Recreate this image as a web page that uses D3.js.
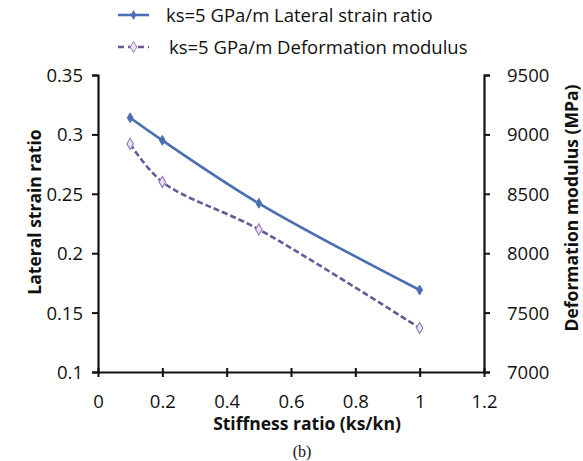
<!DOCTYPE html>
<html>
<head>
<meta charset="utf-8">
<script src="https://cdn.jsdelivr.net/npm/d3@7"></script>
<style>
  body { margin: 0; background: #fff; }
  text { font-family: "Open Sans", "Noto Sans", sans-serif; fill: #111; }
</style>
</head>
<body>
<div id="chart"></div>
<script>
// Dados
const stiffness = [0.1, 0.2, 0.5, 1];
const lateralStrain = [0.314, 0.295, 0.242, 0.169];
const deformModulus = [8920, 8600, 8200, 7370];
const xTicks = [0, 0.2, 0.4, 0.6, 0.8, 1, 1.2];
const leftTicks = [0.1, 0.15, 0.2, 0.25, 0.3, 0.35];
const rightTicks = [7000, 7500, 8000, 8500, 9000, 9500];
const seriesNames = ["ks=5 GPa/m Lateral strain ratio", "ks=5 GPa/m Deformation modulus"];

const W = 583, H = 461;
const margin = { top: 75, right: 99, bottom: 89, left: 98 };
const innerW = W - margin.left - margin.right;
const innerH = H - margin.top - margin.bottom;

const blue = "#4a6eb2";
const purple = "#6a5797";

const svg = d3.select("#chart").append("svg")
  .attr("width", W).attr("height", H);

const g = svg.append("g")
  .attr("transform", `translate(${margin.left},${margin.top})`);

const x = d3.scaleLinear().domain([0, 1.2]).range([0, innerW]);
const yL = d3.scaleLinear().domain([0.1, 0.35]).range([innerH, 0]);
const yR = d3.scaleLinear().domain([7000, 9500]).range([innerH, 0]);

// Eixos
const xAxis = g.append("g").attr("transform", `translate(0,${innerH})`)
  .call(d3.axisBottom(x).tickValues(xTicks).tickFormat(d3.format("")).tickSize(0).tickPadding(23));
xAxis.selectAll(".tick").append("line").attr("y1", -4).attr("y2", 5);

const leftAxis = g.append("g")
  .call(d3.axisLeft(yL).tickValues(leftTicks).tickFormat(d3.format("")).tickSize(6).tickPadding(9));

const rightAxis = g.append("g").attr("transform", `translate(${innerW},0)`)
  .call(d3.axisRight(yR).tickValues(rightTicks).tickFormat(d3.format("")).tickSize(6).tickPadding(17));

[xAxis, leftAxis, rightAxis].forEach(a => {
  a.select(".domain").attr("stroke", "#111").attr("stroke-width", 2.2);
  a.selectAll(".tick line").attr("stroke", "#111").attr("stroke-width", 2);
  a.selectAll(".tick text").style("font-size", "18.5px").attr("fill", "#111")
    .style("font-family", "'Open Sans', 'Noto Sans', sans-serif");
});
leftAxis.selectAll(".tick text").attr("dy", "0.35em");
rightAxis.selectAll(".tick text").attr("dy", "0.35em");

// Títulos dos eixos
svg.append("text")
  .attr("x", 307).attr("y", 430)
  .attr("text-anchor", "middle")
  .style("font-size", "17.5px").style("font-weight", "bold")
  .text("Stiffness ratio (ks/kn)");

svg.append("text")
  .attr("transform", `translate(41,212) rotate(-90)`)
  .attr("text-anchor", "middle")
  .style("font-size", "17.5px").style("font-weight", "bold")
  .text("Lateral strain ratio");

svg.append("text")
  .attr("transform", `translate(578,208) rotate(-90)`)
  .attr("text-anchor", "middle")
  .style("font-size", "17.5px").style("font-weight", "bold")
  .text("Deformation modulus (MPa)");

svg.append("text")
  .attr("x", 302).attr("y", 457)
  .attr("text-anchor", "middle")
  .style("font-family", "'Liberation Serif', serif").style("font-size", "16px")
  .text("(b)");

// Linhas
const lineL = d3.line().x((d, i) => x(stiffness[i])).y(d => yL(d)).curve(d3.curveCatmullRom);
const lineR = d3.line().x((d, i) => x(stiffness[i])).y(d => yR(d)).curve(d3.curveCatmullRom);

g.append("path").datum(lateralStrain)
  .attr("d", lineL).attr("fill", "none").attr("stroke", blue).attr("stroke-width", 2.6);

g.append("path").datum(deformModulus)
  .attr("d", lineR).attr("fill", "none").attr("stroke", purple)
  .attr("stroke-width", 2.6).attr("stroke-dasharray", "6,3");

const diamond = d3.symbol().type(d3.symbolDiamond);

g.selectAll(".mL").data(lateralStrain).join("path")
  .attr("d", diamond.size(28))
  .attr("transform", (d, i) => `translate(${x(stiffness[i])},${yL(d)})`)
  .attr("fill", blue).attr("stroke", blue);

g.selectAll(".mR").data(deformModulus).join("path")
  .attr("d", diamond.size(36))
  .attr("transform", (d, i) => `translate(${x(stiffness[i])},${yR(d)})`)
  .attr("fill", "#ece4f3").attr("stroke", "#9a80bd").attr("stroke-width", 1.2);

// Legenda
const legend = svg.append("g");
const legendY = [15, 47];
const legendX = [166, 169];
legend.append("line").attr("x1", 118).attr("x2", 149).attr("y1", legendY[0]).attr("y2", legendY[0])
  .attr("stroke", blue).attr("stroke-width", 2.6);
legend.append("path").attr("d", diamond.size(28)).attr("transform", `translate(133.5,${legendY[0]})`)
  .attr("fill", blue);
legend.append("line").attr("x1", 118).attr("x2", 149).attr("y1", legendY[1]).attr("y2", legendY[1])
  .attr("stroke", purple).attr("stroke-width", 2.6).attr("stroke-dasharray", "6,4");
legend.append("path").attr("d", diamond.size(36)).attr("transform", `translate(133.5,${legendY[1]})`)
  .attr("fill", "#ece4f3").attr("stroke", "#9a80bd");

legend.selectAll(".lt").data(seriesNames).join("text")
  .attr("x", (d, i) => legendX[i]).attr("y", (d, i) => legendY[i] + 7)
  .style("font-size", "18.5px")
  .text(d => d);
</script>
</body>
</html>
